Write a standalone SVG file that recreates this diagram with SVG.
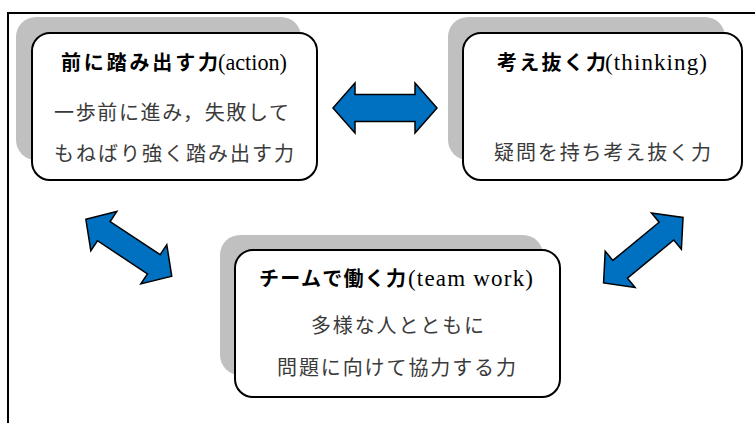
<svg xmlns="http://www.w3.org/2000/svg" width="755" height="423" viewBox="0 0 755 423">
<style>
.shadow{fill:#c0c0c0;}
.box{fill:#ffffff;stroke:#000000;stroke-width:2;}
.ttl{font-family:"Noto Sans CJK JP","Noto Sans",sans-serif;font-weight:bold;font-size:20px;fill:#000;}
.lat{font-family:"Liberation Serif",serif;font-size:23px;fill:#000;}
.body{font-family:"Noto Sans CJK JP","Noto Sans",sans-serif;font-size:20px;fill:#3a3a3a;}
.arrow{fill:#0070c0;stroke:#000;stroke-width:1.5;stroke-linejoin:miter;}
</style>
<defs>
<path id="harrow" d="M-52,0 L-30,-25 L-30,-13.5 L30,-13.5 L30,-25 L52,0 L30,25 L30,13.5 L-30,13.5 L-30,25 Z"/>
<path id="darrow" d="M-51.5,0 L-30,-23.5 L-30,-11.5 L30,-11.5 L30,-23.5 L51.5,0 L30,23.5 L30,11.5 L-30,11.5 L-30,23.5 Z"/>
</defs>
<rect width="755" height="423" fill="#ffffff"/>
<path d="M8,423 L8,13 L755,13" fill="none" stroke="#000" stroke-width="2"/>

<g id="action">
<rect class="shadow" x="16" y="17" width="285" height="143" rx="20"/>
<rect class="box" x="32" y="33" width="285" height="147" rx="18"/>
<text class="ttl" x="61" y="70" textLength="157" lengthAdjust="spacing">前に踏み出す力</text>
<text class="lat" x="218" y="70" textLength="69" lengthAdjust="spacingAndGlyphs">(action)</text>
<text class="body" x="54" y="120" textLength="235" lengthAdjust="spacing">一歩前に進み，失敗して</text>
<text class="body" x="54" y="161" textLength="240" lengthAdjust="spacing">もねばり強く踏み出す力</text>
</g>

<g id="thinking">
<rect class="shadow" x="448" y="17" width="277" height="143" rx="20"/>
<rect class="box" x="463" y="33" width="279" height="147" rx="18"/>
<text class="ttl" x="497" y="70" textLength="109" lengthAdjust="spacing">考え抜く力</text>
<text class="lat" x="605" y="70" textLength="102" lengthAdjust="spacing">(thinking)</text>
<text class="body" x="494" y="160" textLength="217" lengthAdjust="spacing">疑問を持ち考え抜く力</text>
</g>

<g id="teamwork">
<rect class="shadow" x="220" y="235" width="323" height="140" rx="20"/>
<rect class="box" x="235" y="250" width="325" height="147" rx="18"/>
<text class="ttl" x="259" y="286" textLength="147" lengthAdjust="spacing">チームで働く力</text>
<text class="lat" x="408" y="286" textLength="125" lengthAdjust="spacing">(team work)</text>
<text class="body" x="311" y="333" textLength="173" lengthAdjust="spacing">多様な人とともに</text>
<text class="body" x="277" y="375" textLength="239" lengthAdjust="spacing">問題に向けて協力する力</text>
</g>

<g id="connectors">
<use href="#harrow" class="arrow" transform="translate(385,108)"/>
<use href="#darrow" class="arrow" transform="translate(128.8,247.7) rotate(33.5)"/>
<use href="#darrow" class="arrow" transform="translate(643.3,250.2) rotate(-39.5)"/>
</g>
</svg>
